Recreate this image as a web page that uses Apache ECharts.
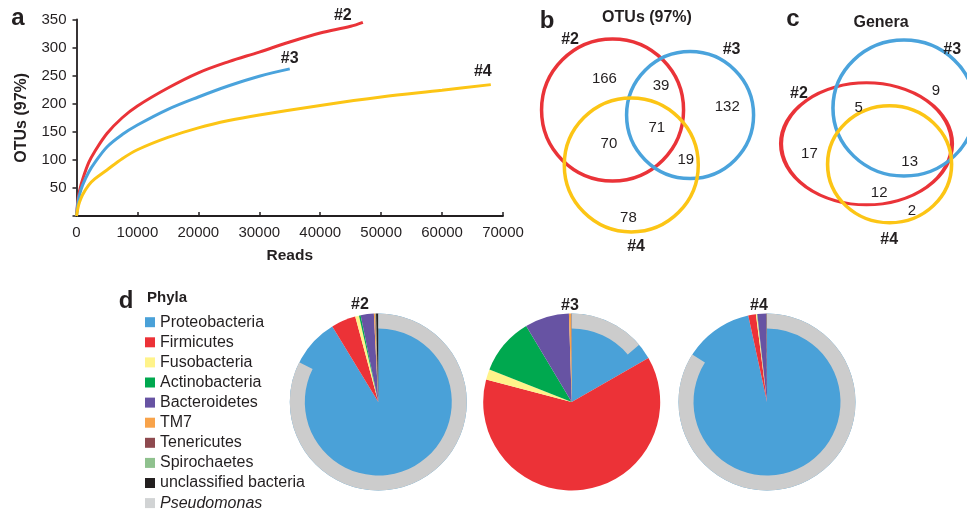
<!DOCTYPE html>
<html><head><meta charset="utf-8">
<script src="https://cdn.jsdelivr.net/npm/echarts@6/dist/echarts.min.js"></script>
<style>html,body{margin:0;padding:0;background:#fff}#c{width:967px;height:511px}</style>
</head><body><div id="c"></div>
<script>
// ---------- Panel a: rarefaction curves (reads, OTUs at 97%) ----------
const reads2 = [0,250,500,1000,2000,3000,5000,7500,10000,15000,20000,25000,30000,35000,40000,45000,47000];
const otus2  = [0,30,45,65,95,115,147,175,196,228,255,275,292,310,326,338,345];
const reads3 = [0,250,500,1000,2000,3000,5000,7500,10000,15000,20000,25000,30000,35000];
const otus3  = [0,25,38,55,78,95,123,145,162,190,212,232,249,262];
const reads4 = [0,250,500,1000,2000,3000,5000,7500,10000,15000,20000,25000,30000,40000,50000,60000,68000];
const otus4  = [0,15,25,38,55,66,82,102,118,140,157,170,180,197,212,224,234];
const sampleNames = ['#2','#3','#4'];

// ---------- Panel b: Venn of OTUs (97%) ----------
const otuRegions = ['2only','2and3','3only','2and4','all','3and4','4only'];
const otuCounts  = [166,39,132,70,71,19,78];
// ---------- Panel c: Venn of genera ----------
const genRegions = ['3only','2and3','2only','all','2and4','4only'];
const genCounts  = [9,5,17,13,12,2];

// ---------- Panel d: phyla composition (%) ----------
const phyla = ['Proteobacteria','Firmicutes','Fusobacteria','Actinobacteria','Bacteroidetes','TM7','Tenericutes','Spirochaetes','unclassified bacteria'];
const phyla2 = [91.3,4.5,0.7,0.3,2.4,0.2,0.1,0.1,0.4];
const phyla3 = [16.7,62.4,1.9,10.4,8.1,0.4,0.05,0.0,0.05];
const phyla4 = [96.6,1.4,0.2,0.05,1.65,0.03,0.02,0.0,0.05];
const pseudomonas = [82.4,13.8,84.0];

// ---------- styles / layout ----------
const FONT = '"Liberation Sans", Arial, Helvetica, sans-serif';
const TXT = '#231f20';
const RED = '#ea3338', BLUE = '#4aa3dc', YEL = '#fcc515';
const phylaColors = ['#4aa1d8','#ec3237','#fff38a','#00a84f','#6753a3','#f8a34a','#8e4a4f','#8fc18e','#231f20'];
const ringColor = '#cccccc';
const legendPseudoColor = '#d1d3d4';

// Venn layout (grid units, 0..100)
const vennB = {
  circles: [{c:[34.4,62.5], s:[142,142], col:RED},{c:[66.7,60.4], s:[127,127], col:BLUE},{c:[42.2,39.6], s:[134,134], col:YEL}],
  labels: {'2only':[31.0,75.4],'2and3':[54.6,72.5],'3only':[82.2,63.9],'2and4':[32.9,48.6],'all':[52.8,55.1],'3and4':[64.9,41.7],'4only':[41.0,17.4]},
  names: [[16.7,92.0],[84.0,87.5],[44.2,5.5]]
};
const vennC = {
  circles: [{c:[49,48.4], s:[171,122], col:RED},{c:[68,63.3], s:[142,136], col:BLUE},{c:[60.7,39.9], s:[124,117], col:YEL}],
  labels: {'3only':[84.2,70.5],'2and3':[45,63.6],'2only':[20,44.2],'all':[70.9,41.0],'2and4':[55.4,27.8],'4only':[72,20.5]},
  names: [[14.7,69.5],[92.5,87.8],[60.5,8.3]]
};
const pieCenters = [[378.3,402],[571.7,402],[767,402]];

function pairs(xs, ys){ return xs.map((x,i)=>[x, ys[i]]); }

const lineCurves = [[reads2,otus2,RED],[reads3,otus3,BLUE],[reads4,otus4,YEL]];
const endOffsets = [[-20,7],[0,3],[-8,0]];

const series = [];
lineCurves.forEach(([xs,ys,col],i)=>{
  series.push({type:'line', xAxisIndex:0, yAxisIndex:0, data:pairs(xs,ys), smooth:0.35,
    symbol:'none', lineStyle:{color:col, width:3}, silent:true, z:3});
});
lineCurves.forEach(([xs,ys],i)=>{
  series.push({type:'scatter', xAxisIndex:0, yAxisIndex:0, symbolSize:1, itemStyle:{color:'transparent', opacity:1}, silent:true,
    data:[[xs[xs.length-1], ys[ys.length-1]]],
    label:{show:true, formatter:sampleNames[i], position:'top', offset:endOffsets[i], fontFamily:FONT, fontWeight:'bold', fontSize:16, color:TXT}});
});

function vennSeries(layout, regions, counts, gi){
  layout.circles.forEach(ci=>{
    series.push({type:'scatter', xAxisIndex:gi, yAxisIndex:gi, silent:true, symbol:'circle',
      data:[{value:ci.c, symbolSize:ci.s}], itemStyle:{color:'rgba(0,0,0,0)', borderColor:ci.col, borderWidth:3.5, opacity:1}, z:2});
  });
  series.push({type:'scatter', xAxisIndex:gi, yAxisIndex:gi, silent:true, symbolSize:1, itemStyle:{color:'transparent', opacity:1}, z:4,
    data: regions.map((r,i)=>({value:layout.labels[r], name:String(counts[i])})),
    label:{show:true, position:'inside', formatter:'{b}', fontFamily:FONT, fontSize:15, color:TXT}});
  series.push({type:'scatter', xAxisIndex:gi, yAxisIndex:gi, silent:true, symbolSize:1, itemStyle:{color:'transparent', opacity:1}, z:4,
    data: sampleNames.map((n,i)=>({value:layout.names[i], name:n})),
    label:{show:true, position:'inside', formatter:'{b}', fontFamily:FONT, fontSize:16, fontWeight:'bold', color:TXT}});
}
vennSeries(vennB, otuRegions, otuCounts, 1);
vennSeries(vennC, genRegions, genCounts, 2);

[phyla2, phyla3, phyla4].forEach((vals, k)=>{
  series.push({type:'pie', center:pieCenters[k], radius:[0,88.5], startAngle:90, clockwise:true, silent:true,
    label:{show:false}, labelLine:{show:false}, minAngle:0,
    data: phyla.map((n,i)=>({name:n, value:vals[i], itemStyle:{color:phylaColors[i]}}))});
  series.push({type:'pie', center:pieCenters[k], radius:[73.5,88.5], startAngle:90, clockwise:true, silent:true,
    label:{show:false}, labelLine:{show:false}, z:3,
    data:[{name:'Pseudomonas', value:pseudomonas[k], itemStyle:{color:ringColor}},
          {name:'_rest', value:100-pseudomonas[k], itemStyle:{color:'rgba(0,0,0,0)'}}]});
});

const txt = (x,y,t,size,bold,align)=>({type:'text', x:x, y:y, style:{text:t, fontFamily:FONT, fontSize:size, fontWeight:bold?'bold':'normal', fill:TXT, align:align||'center', verticalAlign:'middle'}});

const option = {
  animation:false,
  backgroundColor:'#ffffff',
  grid:[
    {left:76.5, top:19.5, width:426.5, height:196.5},
    {left:530, top:20, width:240, height:240},
    {left:770, top:20, width:200, height:240}
  ],
  xAxis:[
    {gridIndex:0, type:'value', min:0, max:70000, interval:10000,
     axisLine:{lineStyle:{color:TXT, width:1.8}}, axisTick:{inside:true, length:4, lineStyle:{color:TXT, width:1.5}},
     splitLine:{show:false}, axisLabel:{fontFamily:FONT, fontSize:15, color:TXT, margin:9, formatter:v=>String(v)},
     name:'Reads', nameLocation:'middle', nameGap:32, nameTextStyle:{fontFamily:FONT, fontSize:15.5, fontWeight:'bold', color:TXT}},
    {gridIndex:1, type:'value', min:0, max:100, show:false},
    {gridIndex:2, type:'value', min:0, max:100, show:false}
  ],
  yAxis:[
    {gridIndex:0, type:'value', min:0, max:350, interval:50,
     axisLine:{show:true, lineStyle:{color:TXT, width:1.8}}, axisTick:{show:true, length:4, lineStyle:{color:TXT, width:1.5}},
     splitLine:{show:false}, axisLabel:{fontFamily:FONT, fontSize:15, color:TXT, margin:10, formatter:v=>v===0?'':String(v)},
     name:'OTUs (97%)', nameLocation:'middle', nameGap:47, nameRotate:90, nameTextStyle:{fontFamily:FONT, fontSize:16, fontWeight:'bold', color:TXT}},
    {gridIndex:1, type:'value', min:0, max:100, show:false},
    {gridIndex:2, type:'value', min:0, max:100, show:false}
  ],
  legend:{
    orient:'vertical', left:145, top:314.2, height:240, padding:0, itemWidth:10, itemHeight:10, itemGap:4.1, icon:'rect', selectedMode:false,
    data: phyla.concat(['Pseudomonas']).map((n,i)=>({name:n, itemStyle:{color: i<phyla.length ? phylaColors[i] : legendPseudoColor}})),
    formatter: n => n==='Pseudomonas' ? '{i|Pseudomonas}' : n,
    textStyle:{fontFamily:FONT, fontSize:16, color:TXT, rich:{i:{fontStyle:'italic', fontFamily:FONT, fontSize:16, color:TXT}}}
  },
  graphic:[
    txt(18,18,'a',24,true),
    txt(547,21,'b',24,true),
    txt(793,19,'c',24,true),
    txt(126,301,'d',24,true),
    txt(647,18,'OTUs (97%)',16,true),
    txt(881,23,'Genera',16,true),
    txt(147,298,'Phyla',15,true,'left'),
    txt(360,305,'#2',16,true),
    txt(570,306,'#3',16,true),
    txt(759,306,'#4',16,true)
  ],
  series: series
};
const chart = echarts.init(document.getElementById('c'), null, {renderer:'canvas'});
chart.setOption(option);
</script></body></html>
